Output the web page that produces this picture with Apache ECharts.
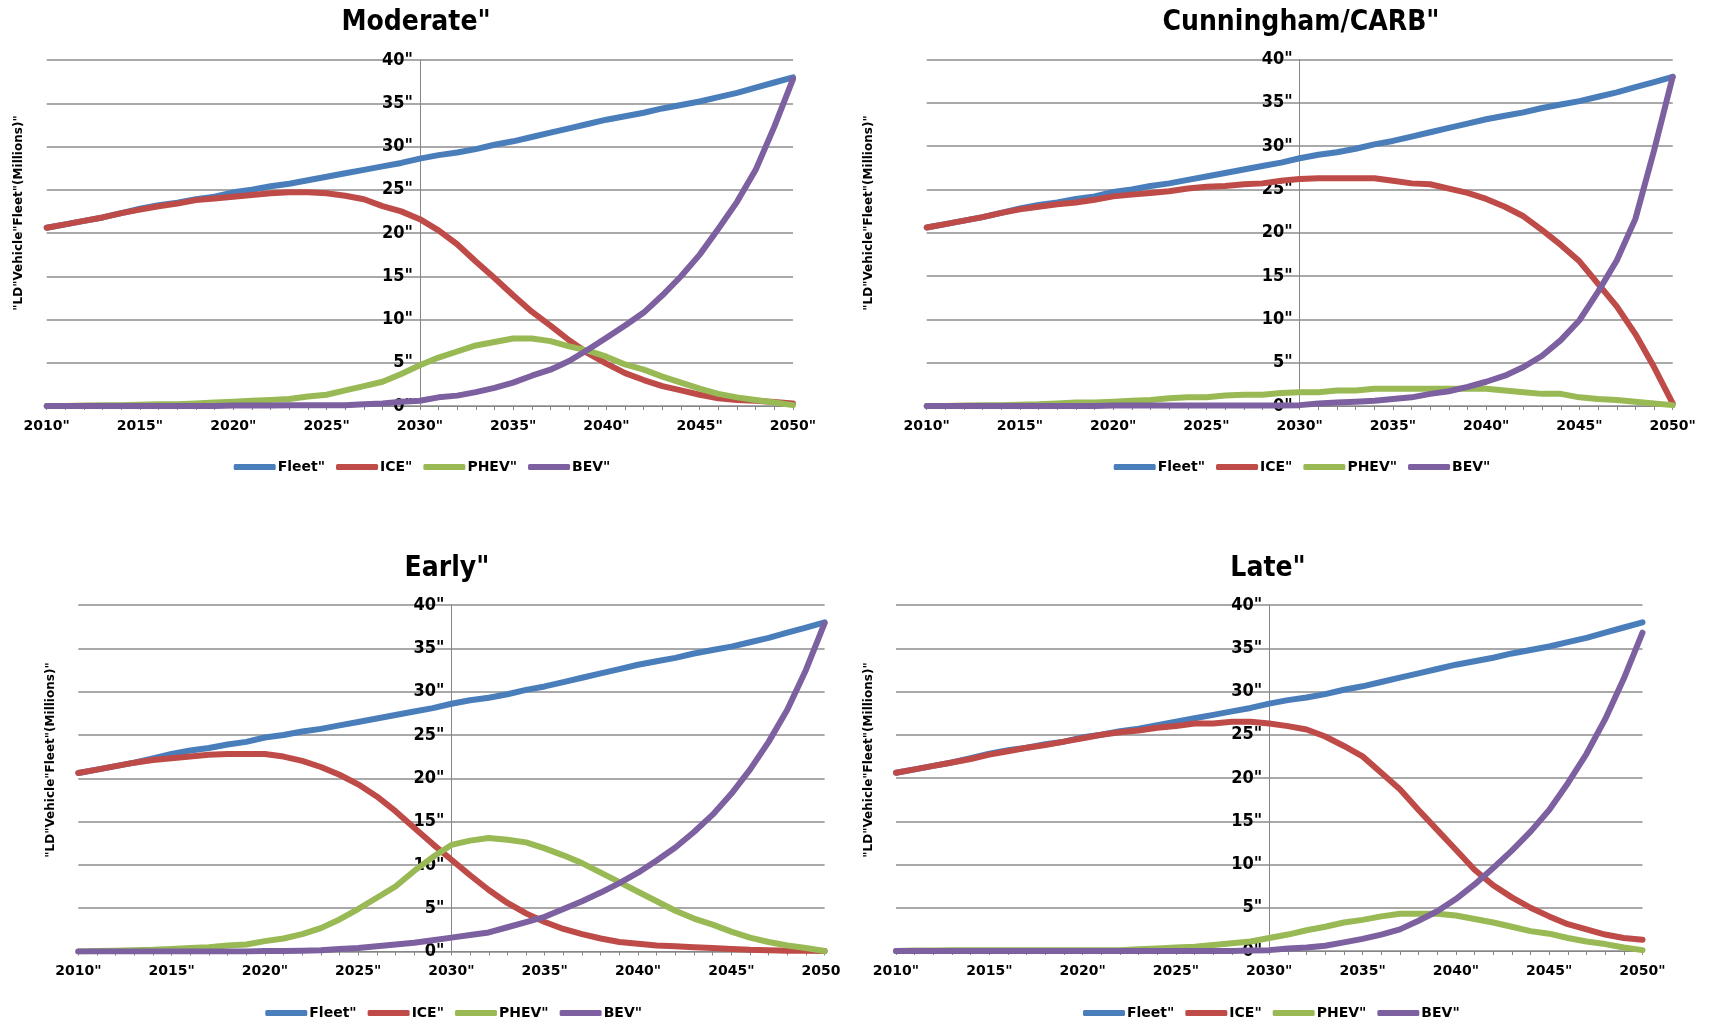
<!DOCTYPE html>
<html>
<head>
<meta charset="utf-8">
<script src="https://cdn.jsdelivr.net/npm/echarts@6/dist/echarts.min.js"></script>
<style>
  html, body { margin: 0; padding: 0; background: #fff; width: 1709px; height: 1020px; overflow: hidden; }
  .panel { position: absolute; overflow: hidden; }
</style>
</head>
<body>
<div id="p1" class="panel" style="left:0;top:0;width:855px;height:510px"></div>
<div id="p2" class="panel" style="left:855px;top:0;width:854px;height:510px"></div>
<div id="p3" class="panel" style="left:0;top:510px;width:841px;height:510px"></div>
<div id="p4" class="panel" style="left:855px;top:510px;width:854px;height:510px"></div>
<script>
// Light-duty vehicle fleet by powertrain, millions of vehicles, 2010-2050
const years = [2010, 2011, 2012, 2013, 2014, 2015, 2016, 2017, 2018, 2019,
               2020, 2021, 2022, 2023, 2024, 2025, 2026, 2027, 2028, 2029,
               2030, 2031, 2032, 2033, 2034, 2035, 2036, 2037, 2038, 2039,
               2040, 2041, 2042, 2043, 2044, 2045, 2046, 2047, 2048, 2049, 2050];

const seriesNames = ['Fleet"', 'ICE"', 'PHEV"', 'BEV"'];
const panelTitles = ['Moderate"', 'Cunningham/CARB"', 'Early"', 'Late"'];
const yAxisTitle = '"LD"Vehicle"Fleet"(Millions)"';
const yTicks = [0, 5, 10, 15, 20, 25, 30, 35, 40];

// Total fleet (same in every scenario)
const fleet = [20.6, 21.0, 21.4, 21.8, 22.3, 22.8, 23.2, 23.5, 23.9, 24.2,
               24.7, 25.0, 25.4, 25.7, 26.1, 26.5, 26.9, 27.3, 27.7, 28.1,
               28.6, 29.0, 29.3, 29.7, 30.2, 30.6, 31.1, 31.6, 32.1, 32.6,
               33.1, 33.5, 33.9, 34.4, 34.8, 35.2, 35.7, 36.2, 36.8, 37.4, 38.0];

// Moderate scenario
const moderateICE = [20.6, 21.0, 21.4, 21.8, 22.3, 22.7, 23.1, 23.4, 23.8, 24.0,
                     24.2, 24.4, 24.6, 24.7, 24.7, 24.6, 24.3, 23.9, 23.1, 22.5,
                     21.6, 20.3, 18.7, 16.7, 14.8, 12.8, 10.9, 9.3, 7.6, 6.1,
                     4.9, 3.8, 3.0, 2.3, 1.8, 1.3, 0.9, 0.7, 0.6, 0.45, 0.3];
const moderatePHEV = [0, 0, 0.05, 0.1, 0.1, 0.15, 0.2, 0.2, 0.3, 0.4,
                      0.5, 0.6, 0.7, 0.8, 1.1, 1.3, 1.8, 2.3, 2.8, 3.7,
                      4.7, 5.6, 6.3, 7.0, 7.4, 7.8, 7.8, 7.5, 6.9, 6.4,
                      5.7, 4.8, 4.2, 3.4, 2.7, 2.0, 1.4, 1.0, 0.7, 0.4, 0.1];
const moderateBEV = [0, 0, 0, 0, 0, 0, 0, 0, 0, 0,
                     0.05, 0.05, 0.05, 0.1, 0.1, 0.1, 0.1, 0.2, 0.3, 0.5,
                     0.6, 1.0, 1.2, 1.6, 2.1, 2.7, 3.5, 4.2, 5.2, 6.5,
                     7.9, 9.3, 10.8, 12.8, 15.0, 17.5, 20.5, 23.6, 27.3, 32.3, 37.8];

// Cunningham/CARB scenario
const carbICE = [20.6, 21.0, 21.4, 21.8, 22.3, 22.7, 23.0, 23.3, 23.5, 23.8,
                 24.2, 24.4, 24.6, 24.8, 25.1, 25.3, 25.4, 25.6, 25.7, 26.0,
                 26.2, 26.3, 26.3, 26.3, 26.3, 26.0, 25.7, 25.6, 25.1, 24.6,
                 23.9, 23.0, 21.9, 20.3, 18.6, 16.7, 14.1, 11.5, 8.3, 4.5, 0.3];
const carbPHEV = [0, 0, 0.05, 0.1, 0.1, 0.15, 0.2, 0.3, 0.4, 0.4,
                  0.5, 0.6, 0.7, 0.9, 1.0, 1.0, 1.2, 1.3, 1.3, 1.5,
                  1.6, 1.6, 1.8, 1.8, 2.0, 2.0, 2.0, 2.0, 2.0, 2.0,
                  2.0, 1.8, 1.6, 1.4, 1.4, 1.0, 0.8, 0.7, 0.5, 0.3, 0.1];
const carbBEV = [0, 0, 0, 0, 0, 0, 0, 0, 0, 0,
                 0.05, 0.05, 0.05, 0.05, 0.05, 0.05, 0.05, 0.05, 0.05, 0.05,
                 0.1, 0.3, 0.4, 0.5, 0.6, 0.8, 1.0, 1.4, 1.7, 2.2,
                 2.8, 3.5, 4.5, 5.8, 7.6, 9.9, 13.2, 16.8, 21.6, 29.5, 38.0];

// Early scenario
const earlyICE = [20.6, 21.0, 21.4, 21.8, 22.1, 22.3, 22.5, 22.7, 22.8, 22.8,
                  22.8, 22.5, 22.0, 21.3, 20.4, 19.3, 17.9, 16.2, 14.3, 12.4,
                  10.6, 8.8, 7.1, 5.6, 4.4, 3.4, 2.6, 2.0, 1.5, 1.1,
                  0.9, 0.7, 0.6, 0.5, 0.4, 0.3, 0.2, 0.15, 0.1, 0.1, 0.05];
const earlyPHEV = [0, 0.05, 0.1, 0.15, 0.2, 0.3, 0.4, 0.5, 0.7, 0.8,
                   1.2, 1.5, 2.0, 2.7, 3.7, 4.9, 6.2, 7.5, 9.3, 10.9,
                   12.3, 12.8, 13.1, 12.9, 12.6, 11.9, 11.1, 10.2, 9.1, 8.0,
                   6.9, 5.8, 4.7, 3.8, 3.1, 2.3, 1.6, 1.1, 0.7, 0.4, 0.05];
const earlyBEV = [0, 0, 0, 0, 0, 0, 0, 0, 0, 0,
                  0.05, 0.05, 0.1, 0.15, 0.3, 0.4, 0.6, 0.8, 1.0, 1.3,
                  1.6, 1.9, 2.2, 2.8, 3.4, 4.0, 4.9, 5.8, 6.8, 7.9,
                  9.1, 10.5, 12.0, 13.8, 15.8, 18.2, 21.0, 24.2, 27.9, 32.5, 37.9];

// Late scenario
const lateICE = [20.6, 21.0, 21.4, 21.8, 22.2, 22.7, 23.1, 23.5, 23.8, 24.2,
                 24.6, 25.0, 25.3, 25.5, 25.8, 26.0, 26.3, 26.3, 26.5, 26.5,
                 26.3, 26.0, 25.6, 24.8, 23.7, 22.5, 20.6, 18.7, 16.3, 14.0,
                 11.7, 9.4, 7.6, 6.2, 5.0, 4.0, 3.1, 2.5, 1.9, 1.5, 1.3];
const latePHEV = [0, 0.05, 0.05, 0.1, 0.1, 0.1, 0.1, 0.1, 0.1, 0.1,
                  0.1, 0.1, 0.1, 0.2, 0.3, 0.4, 0.5, 0.7, 0.9, 1.1,
                  1.5, 1.9, 2.4, 2.8, 3.3, 3.6, 4.0, 4.3, 4.3, 4.3,
                  4.1, 3.7, 3.3, 2.8, 2.3, 2.0, 1.5, 1.1, 0.8, 0.4, 0.1];
const lateBEV = [0, 0, 0, 0, 0, 0, 0, 0, 0, 0,
                 0, 0, 0, 0, 0, 0, 0, 0, 0, 0.05,
                 0.1, 0.3, 0.4, 0.6, 1.0, 1.4, 1.9, 2.5, 3.5, 4.6,
                 6.0, 7.7, 9.6, 11.6, 13.8, 16.3, 19.4, 22.8, 26.8, 31.5, 36.8];

const colors = ['#4A7EBB', '#BE4B48', '#98B954', '#7D60A0'];
const gridColor = '#8c8c8c';
const axisColor = '#868686';
const labelFont = 'DejaVu Sans';
const narrowFont = '"DejaVu Sans Condensed", "Liberation Sans Narrow", "Arial Narrow", sans-serif';

function buildPanel(id, title, data, layout) {
  const chart = echarts.init(document.getElementById(id), null, { renderer: 'canvas' });
  const plotW = layout.w;
  const option = {
    animation: false,
    backgroundColor: '#ffffff',
    grid: { left: layout.x, top: layout.y, width: plotW, height: layout.h, outerBoundsMode: 'none', containLabel: false },
    xAxis: {
      type: 'category',
      data: years,
      boundaryGap: false,
      axisLine: { show: true, lineStyle: { color: axisColor, width: 1 } },
      axisTick: { show: true, interval: 0, length: 4, lineStyle: { color: axisColor } },
      axisLabel: {
        interval: 4, margin: 13, color: '#000',
        fontFamily: labelFont, fontWeight: 'bold', fontSize: 14,
        formatter: v => v + '"'
      },
      splitLine: { show: false }
    },
    yAxis: {
      type: 'value', min: yTicks[0], max: yTicks[yTicks.length - 1], interval: 5,
      position: 'left', offset: -plotW / 2,
      axisLine: { show: true, lineStyle: { color: axisColor, width: 1 } },
      axisTick: { show: false },
      axisLabel: {
        margin: 7, color: '#000',
        fontFamily: narrowFont, fontWeight: 'bold', fontSize: 18,
        formatter: v => v + '"'
      },
      splitLine: { show: true, lineStyle: { color: gridColor, width: 1.5 } }
    },
    legend: {
      left: layout.x + 187, top: layout.legendTop, padding: 0,
      itemWidth: 42, itemHeight: 6, itemGap: 11, icon: 'roundRect',
      data: seriesNames,
      textStyle: { fontFamily: labelFont, fontWeight: 'bold', fontSize: 14, color: '#000', padding: [0, 0, 0, -3] }
    },
    graphic: [
      {
        type: 'text', x: layout.titleX, y: layout.titleY,
        style: { text: title, fill: '#000', fontFamily: narrowFont, fontWeight: 'bold', fontSize: 28, align: 'center', verticalAlign: 'middle' }
      },
      {
        type: 'text', x: layout.nameX, y: layout.nameY, rotation: Math.PI / 2,
        style: { text: yAxisTitle, fill: '#000', fontFamily: labelFont, fontWeight: 'bold', fontSize: 12, align: 'center', verticalAlign: 'middle' }
      }
    ],
    series: data.map((values, i) => ({
      name: seriesNames[i],
      type: 'line',
      data: values,
      symbol: 'none',
      smooth: false,
      color: colors[i],
      lineStyle: { width: 6, color: colors[i], cap: 'round', join: 'round' },
      emphasis: { disabled: true }
    }))
  };
  chart.setOption(option);
}

buildPanel('p1', panelTitles[0], [fleet, moderateICE, moderatePHEV, moderateBEV],
  { x: 46.7, y: 60, w: 746.3, h: 346, legendTop: 460, titleX: 416, titleY: 23, nameX: 18.5, nameY: 213 });
buildPanel('p2', panelTitles[1], [fleet, carbICE, carbPHEV, carbBEV],
  { x: 71.7, y: 59.5, w: 746, h: 346.5, legendTop: 460, titleX: 446, titleY: 23, nameX: 14, nameY: 213 });
buildPanel('p3', panelTitles[2], [fleet, earlyICE, earlyPHEV, earlyBEV],
  { x: 78.3, y: 95, w: 746.3, h: 346.5, legendTop: 496, titleX: 447, titleY: 59, nameX: 51, nameY: 250 });
buildPanel('p4', panelTitles[3], [fleet, lateICE, latePHEV, lateBEV],
  { x: 41, y: 95, w: 746.5, h: 346, legendTop: 496, titleX: 413, titleY: 59, nameX: 14, nameY: 250 });
</script>
</body>
</html>
